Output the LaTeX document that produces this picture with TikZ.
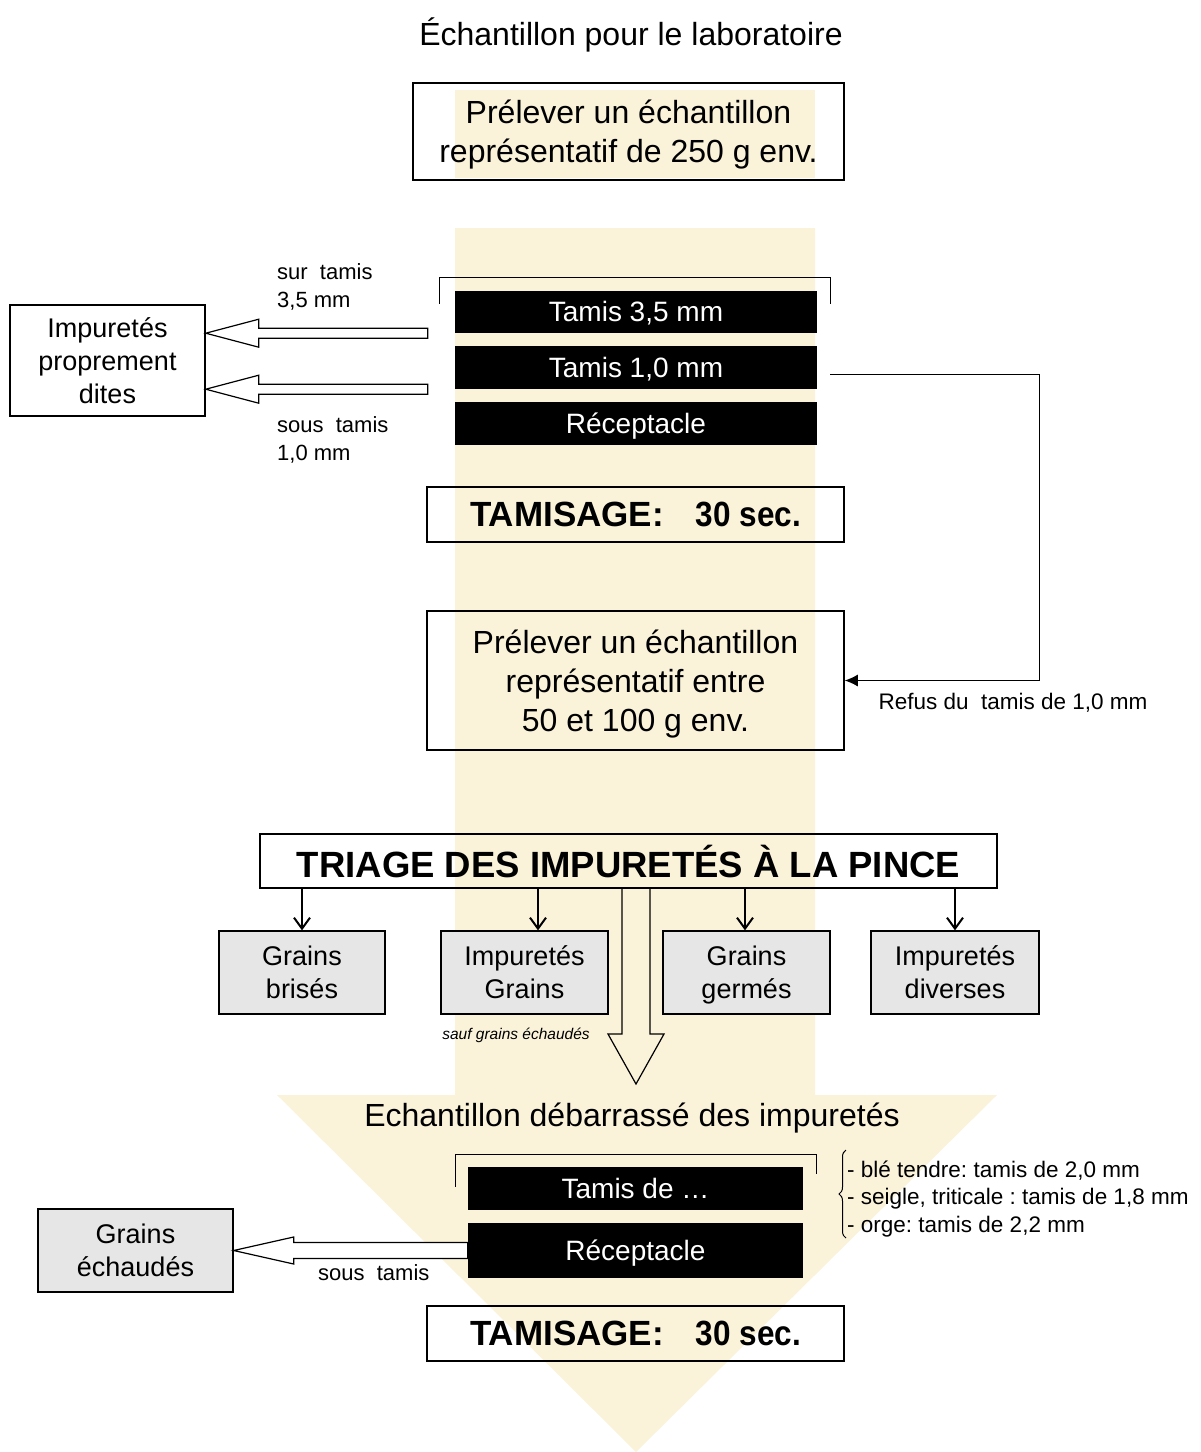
\documentclass[tikz,border=0pt]{standalone}
\usepackage{fontspec}
\usepackage{graphicx}
\setmainfont{Liberation Sans}
\usetikzlibrary{arrows.meta, calc, decorations.pathreplacing}
\frenchspacing

\definecolor{parchment}{RGB}{250,243,217}
\definecolor{boxgrey}{RGB}{230,230,230}

%% hollow arrow pointing left: #1 tail, #2 tip, #3 shaft half, #4 head half, #5 head length
\newcommand{\hollowleft}[5]{%
  \draw[hollow, fill=white] ($(#1)+(0,-#3)$) -- ($(#2)+(#5,-#3)$) -- ($(#2)+(#5,-#4)$)
    -- (#2) -- ($(#2)+(#5,#4)$) -- ($(#2)+(#5,#3)$) -- ($(#1)+(0,#3)$) -- cycle;
}
%% hollow arrow pointing down (open at the tail)
\newcommand{\hollowdown}[5]{%
  \draw[hollow] ($(#1)+(-#3,0)$) -- ($(#2)+(-#3,-#5)$) -- ($(#2)+(-#4,-#5)$)
    -- (#2) -- ($(#2)+(#4,-#5)$) -- ($(#2)+(#3,-#5)$) -- ($(#1)+(#3,0)$);
}
\newcommand{\tamisagetext}{TAMISAGE:\hspace{32pt}\scalebox{0.9}[1]{30 sec.}}

\tikzset{
  plainbox/.style={draw, line width=1.5pt, inner sep=0pt, align=center, text depth=0pt},
  sievebar/.style={fill=black, text=white, inner sep=0pt, minimum height=43pt,
    text height=19pt, text depth=0pt, font=\fontsize{28}{32}\selectfont},
  greybox/.style={draw, fill=boxgrey, line width=1.3pt, inner sep=0pt, align=center,
    text depth=0pt, minimum width=167pt, minimum height=83pt, font=\fontsize{27}{33}\selectfont},
  sievelabel/.style={anchor=west, align=left, inner sep=0pt, font=\fontsize{22}{28}\selectfont},
  hollow/.style={line width=1.2pt, line join=miter},
  frame/.style={line width=1pt},
  drop/.style={-{Straight Barb[length=11pt,width=16pt]}, line width=2pt},
}

\begin{document}
\begin{tikzpicture}[x=1pt, y=-1pt]
\useasboundingbox (0,0) rectangle (1201,1452);

%% ============================================================
%% Background: large pale arrow running down the page
%% ============================================================
\fill[parchment] (455,90) rectangle (815,178);
\fill[parchment] (455,228) -- (815,228) -- (815,1095) -- (997,1095)
  -- (636,1452) -- (277,1095) -- (455,1095) -- cycle;

%% ---- Title and first sampling ----
\node[font=\fontsize{32}{38}\selectfont] (titre) at (631,35) {Échantillon pour le laboratoire};
\node[plainbox, minimum width=431pt, minimum height=97pt, font=\fontsize{32}{39}\selectfont]
  (prelev1) at (628.5,131.5) {Prélever un échantillon\\représentatif de 250 g env.};

%% ---- First sieve stack ----
\node[sievebar, minimum width=362pt, minimum height=42pt] (tamis35) at (636,312) {Tamis 3,5 mm};
\node[sievebar, minimum width=362pt] (tamis10) at (636,367.5) {Tamis 1,0 mm};
\node[sievebar, minimum width=362pt] (recep1) at (636,423.5) {Réceptacle};
\draw[frame] ([xshift=-15pt,yshift=-13pt]tamis35.north west) |- ([yshift=13pt]tamis35.north)
  -| ([xshift=13pt,yshift=-13pt]tamis35.north east);

%% ---- Impurities box and hollow arrows ----
\node[plainbox, minimum width=195pt, minimum height=111pt, font=\fontsize{27}{33}\selectfont]
  (impur) at (107.5,360.5) {Impuretés\\proprement\\dites};
\coordinate (sur) at ([xshift=-27pt]tamis35.south west);
\coordinate (surtip) at (impur.east |- sur);
\coordinate (sous) at ([xshift=-27pt]tamis10.south west);
\coordinate (soustip) at (impur.east |- sous);
\hollowleft{sur}{surtip}{5}{14}{53}
\hollowleft{sous}{soustip}{5}{14}{53}
\node[sievelabel] (surlbl) at (277,287) {sur~ tamis\\3,5 mm};
\node[sievelabel] (souslbl) at (277,440) {sous~ tamis\\1,0 mm};

%% ---- Sieving and second sampling ----
\node[plainbox, minimum width=417pt, minimum height=55pt, font=\fontsize{35}{40}\selectfont\bfseries]
  (tamisage1) at (635.5,514.5) {\tamisagetext};
\node[plainbox, minimum width=417pt, minimum height=139pt, font=\fontsize{32}{39}\selectfont]
  (prelev2) at (635.5,680.5) {Prélever un échantillon\\représentatif entre\\50 et 100 g env.};

% feedback of the 1,0 mm sieve
\draw[-{Latex[length=13pt,width=12pt]}, line width=1.2pt]
  ([xshift=13pt,yshift=-7pt]tamis10.east) -- ++(209,0) |- (prelev2.east);
\node[anchor=west, font=\fontsize{22.5}{26}\selectfont] (refus) at (875,703) {Refus du~ tamis de 1,0 mm};

%% ---- Hand sorting ----
\node[plainbox, minimum width=737pt, minimum height=54pt, font=\fontsize{36.5}{40}\selectfont\bfseries]
  (triage) at (628.5,861) {TRIAGE DES IMPURETÉS À LA PINCE};

\node[greybox, minimum width=166pt] (brises) at (302,972.5) {Grains\\brisés};
\node[greybox] (impgrains) at (524.5,972.5) {Impuretés\\Grains};
\node[greybox] (germes) at (746.5,972.5) {Grains\\germés};
\node[greybox, minimum width=168pt] (diverses) at (955,972.5) {Impuretés\\diverses};
\foreach \nom/\dx in {brises/0, impgrains/13.5, germes/-1.5, diverses/0} {
  \coordinate (fin) at ($(\nom.north)+(\dx,0)$);
  \draw[drop] (fin |- triage.south) -- (fin);
}
\node[font=\fontsize{15.5}{18}\selectfont\itshape] (sauf) at (516,1035) {sauf grains échaudés};

\coordinate (reste) at ([xshift=7.5pt]triage.south);
\coordinate (restetip) at (636,1084);
\hollowdown{reste}{restetip}{14}{28}{50}

%% ---- Cleaned sample, second sieve stack ----
\node[font=\fontsize{32}{38}\selectfont] (debarr) at (632,1118) {Echantillon débarrassé des impuretés};
\node[sievebar, minimum width=335pt] (tamisde) at (635.5,1188.5) {Tamis de …};
\node[sievebar, minimum width=335pt, minimum height=55pt] (recep2) at (635.5,1250.5) {Réceptacle};
\draw[frame] ([xshift=-12pt,yshift=-20pt]tamisde.north west) |- ([yshift=12pt]tamisde.north)
  -| ([xshift=13pt,yshift=-7pt]tamisde.north east);

% sieve size per cereal
\draw[frame, decorate, decoration={brace, amplitude=7pt}] (846,1238) -- (846,1150);
\node[anchor=west, align=left, inner sep=0pt, font=\fontsize{22.5}{27.5}\selectfont]
  (sortes) at (847,1199) {- blé tendre: tamis de 2,0 mm\\- seigle, triticale : tamis de 1,8 mm\\- orge: tamis de 2,2 mm};

\node[greybox, minimum width=195pt] (echaudes) at (135.5,1250.5) {Grains\\échaudés};
\coordinate (sous2) at (recep2.west);
\coordinate (sous2tip) at (echaudes.east |- sous2);
\hollowleft{sous2}{sous2tip}{8}{13.5}{60}
\node[sievelabel] (sous2lbl) at (318,1273) {sous~ tamis};

\node[plainbox, minimum width=417pt, minimum height=55pt, font=\fontsize{35}{40}\selectfont\bfseries]
  (tamisage2) at (635.5,1333.5) {\tamisagetext};

\end{tikzpicture}
\end{document}
